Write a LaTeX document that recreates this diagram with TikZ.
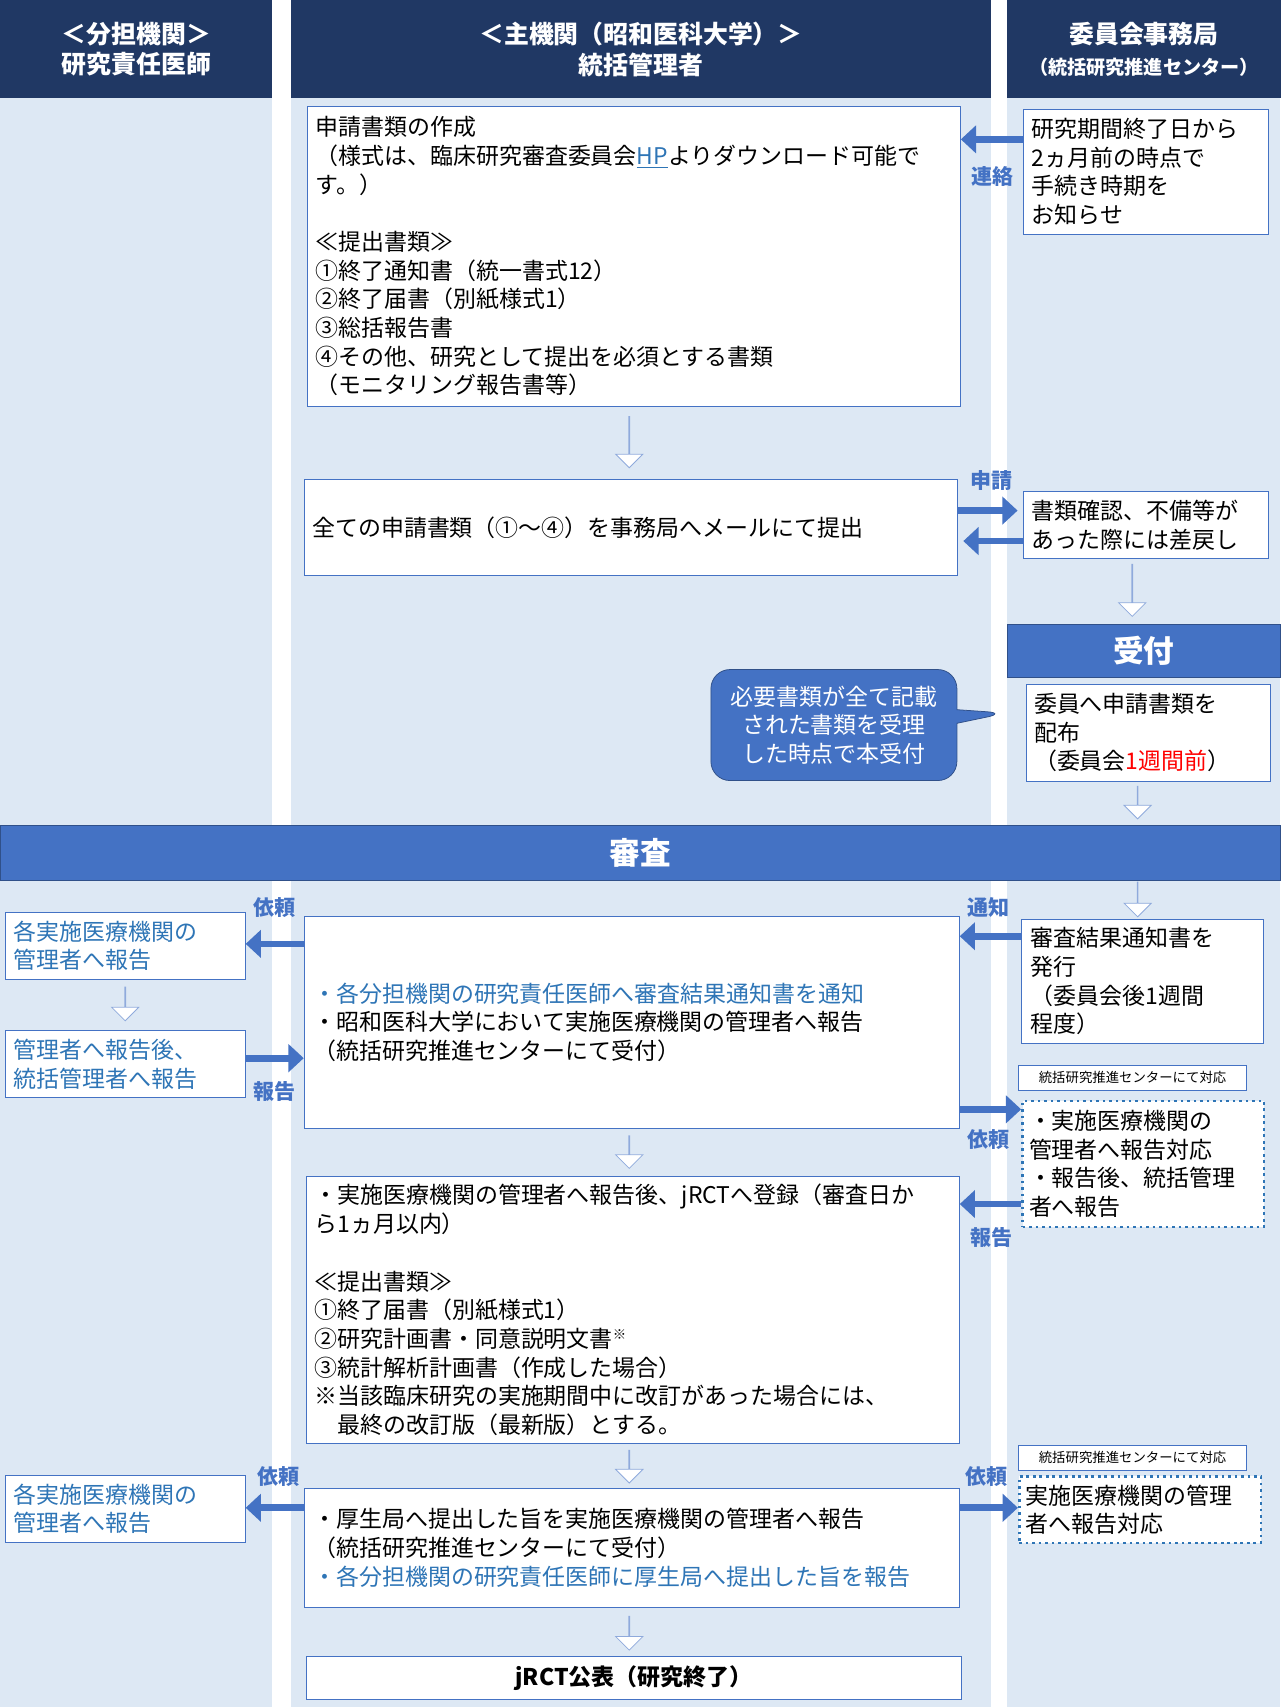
\documentclass[tikz,border=0pt]{standalone}
\usepackage{fontspec}
\setmainfont{Noto Sans CJK JP}
\usetikzlibrary{arrows.meta,shapes.arrows,shapes.callouts}
\definecolor{navy}{HTML}{203864}
\definecolor{lanebg}{HTML}{DDE8F4}
\definecolor{mainblue}{HTML}{4472C4}
\definecolor{textblue}{HTML}{2E75B6}
\definecolor{edgeblue}{HTML}{4472C4}

\begin{document}
\begin{tikzpicture}[x=0.02cm,y=-0.02cm,
  font=\fontsize{12}{15}\selectfont]
    \tikzstyle{box}=[draw=edgeblue,fill=white,align=left,anchor=north west,inner sep=0.15cm]
    \tikzstyle{dotbox}=[draw=textblue,dotted,line width=1.4pt,fill=white,align=left,anchor=north west,inner sep=0.12cm]
    \tikzstyle{tag}=[draw=edgeblue,fill=white,anchor=north west,inner sep=0,font=\fontsize{7}{8}\selectfont,minimum width=4.2cm,minimum height=0.46cm]
    \tikzstyle{head}=[fill=navy,text=white,font=\fontsize{13}{16}\selectfont\bfseries,align=center,anchor=north west,minimum height=1.8cm]
    \tikzstyle{banner}=[fill=mainblue,draw=edgeblue!70!black,text=white,font=\fontsize{16}{18}\selectfont\bfseries,anchor=north west]
    \tikzstyle{downarr}=[single arrow,draw=edgeblue!60,fill=white,rotate=270,single arrow head extend=0.22cm,minimum width=0.5cm,inner sep=0]
    \tikzstyle{barr}=[draw=mainblue,line width=3.5pt,-{Triangle[length=0.28cm,width=0.5cm]}]
    \tikzstyle{alabel}=[text=mainblue,font=\fontsize{11}{13}\selectfont\bfseries]

    \useasboundingbox (0,0) rectangle (1176,1568);
    % lanes
    \fill[lanebg] (0,0) rectangle (1176,1568);
    \fill[white] (250,0) rectangle (267,1568);
    \fill[white] (910,0) rectangle (925,1568);
    \node[head,minimum width=5cm] (h1) at (0,0) {＜分担機関＞\\研究責任医師};
    \node[head,minimum width=12.86cm] (h2) at (267,0) {＜主機関（昭和医科大学）＞\\統括管理者};
    \node[head,minimum width=5.02cm] (h3) at (925,0) {委員会事務局\\{\fontsize{10}{12}\selectfont（統括研究推進センター）}};

    % application
    \node[box,minimum width=11.98cm,minimum height=5.52cm,text width=11.7cm] (apply) at (282,97)
      {申請書類の作成\\
       （様式は、臨床研究審査委員会{\color{textblue}\underline{HP}}よりダウンロード可能で\\す。）\\[15pt]
       ≪提出書類≫\\①終了通知書（統一書式12）\\②終了届書（別紙様式1）\\③総括報告書\\
       ④その他、研究として提出を必須とする書類\\（モニタリング報告書等）};
    \node[box,minimum width=4.5cm,minimum height=2.3cm,text width=4.2cm] (notice) at (940,100)
      {研究期間終了日から\\2ヵ月前の時点で\\手続き時期を\\お知らせ};
    \draw[barr] (notice.west |- 0,128) -- (apply.east |- 0,128);
    \node[alabel] at (912,162) {連絡};
    \node[downarr,minimum height=0.94cm] (d1) at (578,406) {};

    \node[box,minimum width=11.98cm,minimum height=1.76cm,text width=11.7cm] (send) at (279,440)
      {全ての申請書類（①～④）を事務局へメールにて提出};
    \node[box,minimum width=4.5cm,minimum height=1.24cm,text width=4.2cm] (check) at (940,451)
      {書類確認、不備等が\\あった際には差戻し};
    \draw[barr] (send.east |- 0,469) -- ([xshift=-3pt]check.west |- 0,469);
    \draw[barr] (check.west |- 0,497) -- ([xshift=3pt]send.east |- 0,497);
    \node[alabel] at (911,441) {申請};
    \node[downarr,minimum height=0.96cm] (d2) at (1040,542) {};

    \node[banner,minimum width=5.02cm,minimum height=0.98cm] (accept) at (925,573) {受付};
    \node[box,minimum width=4.46cm,minimum height=1.78cm,text width=4.2cm] (dist) at (942,628)
      {委員へ申請書類を\\配布\\（委員会{\color{red}1週間前}）};
    \node[rectangle callout,rounded corners=10pt,fill=mainblue,draw=edgeblue!70!black,text=white,
      align=center,minimum width=4.52cm,minimum height=2.04cm,callout absolute pointer={(924,655)}]
      (memo) at (766,666) {必要書類が全て記載\\された書類を受理\\した時点で本受付};
    \node[downarr,minimum height=0.6cm] (d3) at (1045,737) {};

    % review
    \node[banner,minimum width=23.52cm,minimum height=1cm] (review) at (0,758) {審査};
    \node[downarr,minimum height=0.64cm] (d4) at (1045,826) {};

    \node[box,minimum width=12.04cm,minimum height=3.9cm,text width=11.7cm] (result) at (279,841)
      {{\color{textblue}・各分担機関の研究責任医師へ審査結果通知書を通知}\\
       ・昭和医科大学において実施医療機関の管理者へ報告\\（統括研究推進センターにて受付）};
    \node[box,minimum width=4.4cm,minimum height=1.2cm,text width=4.1cm,text=textblue] (rep1) at (5,838)
      {各実施医療機関の\\管理者へ報告};
    \node[box,minimum width=4.4cm,minimum height=1.24cm,text width=4.1cm,text=textblue] (rep2) at (5,946)
      {管理者へ報告後、\\統括管理者へ報告};
    \node[downarr,minimum height=0.62cm] (d5) at (115,922) {};
    \draw[barr] (result.west |- 0,867) -- (rep1.east |- 0,867);
    \node[alabel] at (252,834) {依頼};
    \draw[barr] (rep2.east |- 0,972) -- (result.west |- 0,972);
    \node[alabel] at (252,1003) {報告};

    \node[box,minimum width=4.44cm,minimum height=2.28cm,text width=4.1cm] (issue) at (938,844)
      {審査結果通知書を\\発行\\（委員会後1週間\\程度）};
    \draw[barr] (issue.west |- 0,860) -- (result.east |- 0,860);
    \node[alabel] at (908,834) {通知};
    \node[tag] (tag1) at (935,978) {統括研究推進センターにて対応};
    \node[dotbox,minimum width=4.44cm,minimum height=2.32cm,text width=4.2cm] (support1) at (938,1010)
      {・実施医療機関の\\管理者へ報告対応\\・報告後、統括管理\\者へ報告};
    \draw[barr] (result.east |- 0,1019) -- (support1.west |- 0,1019);
    \node[alabel] at (908,1047) {依頼};
    \draw[barr] (support1.west |- 0,1106) -- (result.east |- 0,1106);
    \node[alabel] at (911,1137) {報告};
    \node[downarr,minimum height=0.6cm] (d6) at (578,1058) {};

    \node[box,minimum width=12cm,minimum height=4.9cm,text width=11.7cm] (jrct) at (281,1080)
      {・実施医療機関の管理者へ報告後、jRCTへ登録（審査日か\\ら1ヵ月以内）\\[15pt]
       ≪提出書類≫\\①終了届書（別紙様式1）\\②研究計画書・同意説明文書\raisebox{0.6ex}{\fontsize{7}{8}\selectfont ※}\\
       ③統計解析計画書（作成した場合）\\※当該臨床研究の実施期間中に改訂があった場合には、\\
       \hspace*{1em}最終の改訂版（最新版）とする。};
    \node[downarr,minimum height=0.6cm] (d7) at (578,1347) {};

    \node[box,minimum width=12.04cm,minimum height=2.18cm,text width=11.7cm] (bureau) at (279,1367)
      {・厚生局へ提出した旨を実施医療機関の管理者へ報告\\（統括研究推進センターにて受付）\\
       {\color{textblue}・各分担機関の研究責任医師に厚生局へ提出した旨を報告}};
    \node[box,minimum width=4.4cm,minimum height=1.22cm,text width=4.1cm,text=textblue] (rep3) at (5,1355)
      {各実施医療機関の\\管理者へ報告};
    \draw[barr] (bureau.west |- 0,1385) -- (rep3.east |- 0,1385);
    \node[alabel] at (256,1356) {依頼};
    \node[tag] (tag2) at (935,1327) {統括研究推進センターにて対応};
    \node[dotbox,minimum width=4.44cm,minimum height=1.22cm,text width=4.2cm] (support2) at (935,1355)
      {実施医療機関の管理\\者へ報告対応};
    \draw[barr] (bureau.east |- 0,1385) -- (support2.west |- 0,1385);
    \node[alabel] at (906,1356) {依頼};
    \node[downarr,minimum height=0.62cm] (d8) at (578,1500) {};

    \node[box,minimum width=12.04cm,minimum height=0.8cm,align=center,font=\fontsize{12}{15}\selectfont\bfseries] (done) at (281,1521)
      {jRCT公表（研究終了）};
\end{tikzpicture}
\end{document}
